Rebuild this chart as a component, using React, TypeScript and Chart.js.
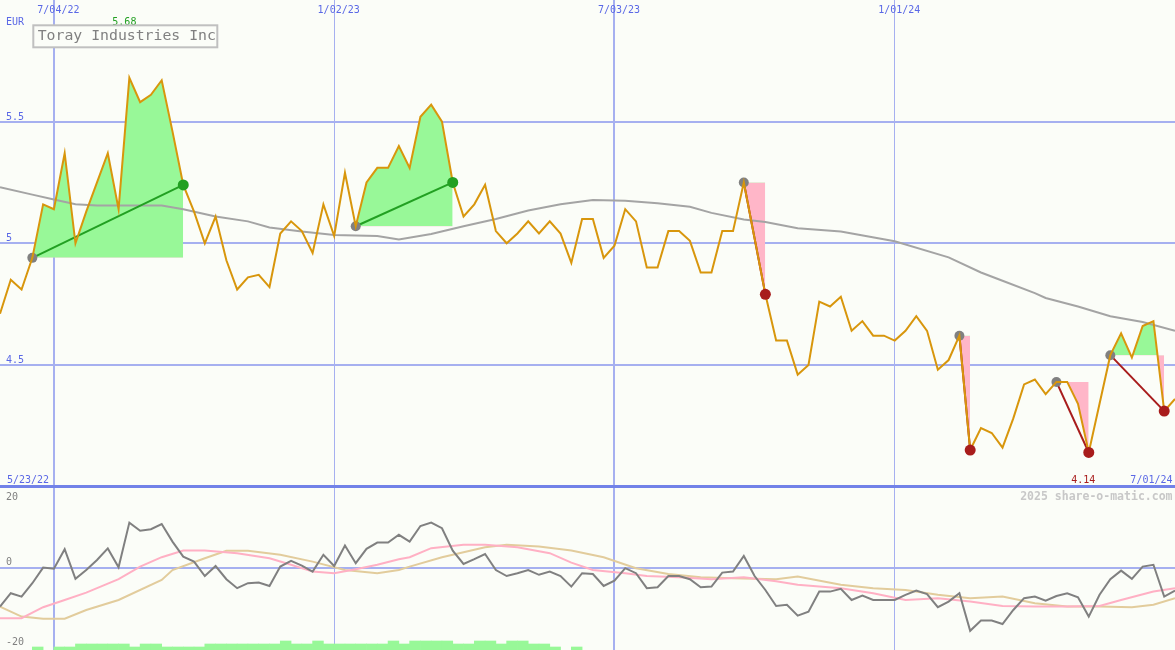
import React, { useEffect, useRef } from "react";
import { Chart, registerables } from "chart.js";

Chart.register(...registerables);

// ---------- texts ----------
const TITLE = "Toray Industries Inc";
const CURRENCY = "EUR";
const FIRST_LABEL = "5/23/22";
const LAST_LABEL = "7/01/24";
const WATERMARK = "2025 share-o-matic.com";

// ---------- axes ----------
const dateTicks = [5, 31, 57, 83]; // week index of each date tick (weekly data starting 2022-05-30)
const dateTickLabels = ["7/04/22", "1/02/23", "7/03/23", "1/01/24"];
const priceTicks = [4.0, 4.5, 5.0, 5.5];
const priceTickLabels = ["", "4.5", "5", "5.5"];
const oscTicks = [-20, 0, 20];
const oscTickLabels = ["-20", "0", "20"];

// ---------- data (weekly) ----------
const closes = [
  4.71, 4.85, 4.81, 4.94, 5.16, 5.14, 5.37, 5.0, 5.13, 5.25,
  5.37, 5.14, 5.68, 5.58, 5.61, 5.67, 5.46, 5.24, 5.13, 5.0,
  5.11, 4.93, 4.81, 4.86, 4.87, 4.82, 5.04, 5.09, 5.05, 4.96,
  5.16, 5.03, 5.29, 5.07, 5.25, 5.31, 5.31, 5.4, 5.31, 5.52,
  5.57, 5.5, 5.25, 5.11, 5.16, 5.24, 5.05, 5.0, 5.04, 5.09,
  5.04, 5.09, 5.04, 4.92, 5.1, 5.1, 4.94, 4.99, 5.14, 5.09,
  4.9, 4.9, 5.05, 5.05, 5.01, 4.88, 4.88, 5.05, 5.05, 5.25,
  5.02, 4.79, 4.6, 4.6, 4.46, 4.5, 4.76, 4.74, 4.78, 4.64,
  4.68, 4.62, 4.62, 4.6, 4.64, 4.7, 4.64, 4.48, 4.52, 4.62,
  4.15, 4.24, 4.22, 4.16, 4.28, 4.42, 4.44, 4.38, 4.43, 4.43,
  4.34, 4.14, 4.34, 4.54, 4.63, 4.53, 4.66, 4.68, 4.31, 4.36,
];

const maWeeks = [0, 3, 5, 7, 9, 12, 15, 17, 20, 23, 25, 28, 31, 35, 37, 40, 43, 46, 49, 52, 55, 58, 61, 64, 66, 69, 71, 74, 78, 83, 88, 91, 93, 96, 97, 100, 103, 106, 109];
const maValues = [5.23, 5.2, 5.18, 5.16, 5.155, 5.155, 5.155, 5.14, 5.11, 5.09, 5.065, 5.048, 5.034, 5.03, 5.016, 5.038, 5.07, 5.1, 5.135, 5.16, 5.178, 5.175, 5.164, 5.15, 5.125, 5.098, 5.087, 5.062, 5.048, 5.008, 4.942, 4.88, 4.846, 4.795, 4.775, 4.74, 4.7, 4.676, 4.64];

const momentum = [
  -9.75, -6.4, -7.25, -3.9, 0, -0.3, 4.6, -2.8, -0.6, 1.9,
  4.8, 0.1, 11.25, 9.2, 9.6, 10.9, 6.5, 2.75, 1.5, -2.1,
  0.4, -2.9, -5.15, -3.9, -3.75, -4.6, 0.25, 1.7, 0.5, -1.0,
  3.2, 0.4, 5.5, 1.1, 4.7, 6.25, 6.25, 8.2, 6.5, 10.4,
  11.25, 9.85, 4.25, 0.9, 2.1, 3.4, -0.6, -2.1, -1.4, -0.6,
  -1.8, -1.0, -2.1, -4.75, -1.4, -1.6, -4.6, -3.25, -0.15, -1.4,
  -5.15, -4.9, -2.1, -2.1, -2.9, -4.9, -4.75, -1.25, -1.0, 2.9,
  -2.1, -5.6, -9.6, -9.3, -12, -11, -6, -6, -5.3, -8.1,
  -7, -8.1, -8.1, -8.1, -6.8, -5.75, -6.6, -9.9, -8.5, -6.4,
  -15.8, -13.25, -13.25, -14.1, -10.6, -7.65, -7.25, -8.25, -7.1, -6.4,
  -7.4, -12.25, -6.8, -2.9, -0.75, -2.8, 0.25, 0.7, -7.25, -5.75,
];

const signalWeeks = [0, 2, 4, 6, 8, 11, 13, 15, 17, 19, 22, 25, 27, 29, 31, 33, 35, 37, 38, 40, 43, 45, 48, 51, 53, 55, 58, 60, 63, 66, 69, 72, 74, 78, 81, 84, 87, 90, 93, 96, 99, 102, 104, 107, 109];
const signalValues = [-12.65, -12.65, -9.9, -8.1, -6.25, -2.9, 0.25, 2.6, 4.25, 4.25, 3.6, 2.35, 0.7, -1, -1.4, -0.4, 0.7, 2.1, 2.6, 4.85, 5.7, 5.7, 5.1, 3.6, 1.25, -0.6, -1.4, -2.1, -2.4, -2.9, -2.4, -3.4, -4.3, -5.15, -6.4, -8.1, -7.65, -8.5, -9.6, -9.75, -9.75, -9.6, -8.1, -6, -5.15];

const slowWeeks = [0, 2, 4, 6, 8, 11, 15, 16, 19, 21, 23, 26, 29, 32, 35, 37, 38, 41, 45, 47, 50, 53, 56, 59, 62, 65, 68, 72, 74, 78, 81, 84, 87, 90, 93, 96, 99, 102, 105, 107, 109];
const slowValues = [-9.75, -12.25, -12.8, -12.8, -10.6, -8.1, -3.1, -0.6, 2.35, 4.2, 4.2, 3.2, 1.5, -0.6, -1.4, -0.6, 0.25, 2.6, 5.1, 5.7, 5.25, 4.25, 2.6, -0.15, -1.6, -2.4, -2.65, -2.9, -2.25, -4.3, -5.15, -5.6, -6.8, -7.65, -7.25, -8.9, -9.75, -9.75, -9.9, -9.3, -7.65];

const barLevels = [
  0, 0, 0, 1, 0, 1, 1, 2, 2, 2,
  2, 2, 1, 2, 2, 1, 1, 1, 1, 2,
  2, 2, 2, 2, 2, 2, 3, 2, 2, 3,
  2, 2, 2, 2, 2, 2, 3, 2, 3, 3,
  3, 3, 2, 2, 3, 3, 2, 3, 3, 2,
  2, 1, 0, 1,
];

const patternStart = [3, 33, 69, 89, 98, 103];
const patternEnd = [17, 42, 71, 90, 101, 108];

// ---------- styling ----------
const BG = "#fbfdf8";
const GRID = "#a6b0f0";
const DIVIDER = "#7282e8";
const BLUE_TEXT = "#5a68e6";
const GRAY_TEXT = "#808080";
const ORANGE = "#d8960c";
const MA_GRAY = "#a4a4a4";
const GREEN_FILL = "#98f898";
const PINK_FILL = "#ffb6c8";
const DK_GREEN = "#22a022";
const DK_RED = "#a81c1c";
const DOT_GRAY = "#808080";
const MOM_GRAY = "#808080";
const SIG_PINK = "#ffb0c4";
const SLOW_TAN = "#e2cc9c";
const FONT = '"DejaVu Sans Mono", monospace';

// axis ranges that place price panel on top, oscillator panel below
const PRICE_MIN = 3.328;
const PRICE_MAX = 6.0;
const OSC_MIN = -20.6;
const OSC_MAX = 141.9;
const BAR_MAX = 216.7;

const pts = (xs: number[], ys: number[]) => xs.map((x, i) => ({ x, y: ys[i] }));

const labelPlugin = {
  id: "textLabels",
  afterDraw(chart: any) {
    const ctx = chart.ctx as CanvasRenderingContext2D;
    const sx = chart.scales.x;
    const sy = chart.scales.y;
    const so = chart.scales.yo;
    ctx.save();
    ctx.textBaseline = "alphabetic";
    ctx.font = `10px ${FONT}`;
    ctx.fillStyle = BLUE_TEXT;

    // date labels on top
    ctx.textAlign = "center";
    sx.ticks.forEach((t: any, k: number) => {
      ctx.fillText(dateTickLabels[k], sx.getPixelForValue(t.value) + 4.5, 12.5);
    });

    // price labels
    ctx.textAlign = "left";
    sy.ticks.forEach((t: any, k: number) => {
      const lab = priceTickLabels[k];
      if (lab) ctx.fillText(lab, 6, sy.getPixelForValue(t.value) - 2);
    });
    ctx.fillText(CURRENCY, 6, 25);

    const divY = sy.getPixelForValue(priceTicks[0]);
    ctx.fillText(FIRST_LABEL, 7, divY - 4);
    ctx.textAlign = "right";
    ctx.fillText(LAST_LABEL, 1172.5, divY - 4);

    // max / min labels
    let iMax = 0, iMin = 0;
    closes.forEach((v, i) => {
      if (v > closes[iMax]) iMax = i;
      if (v <= closes[iMin]) iMin = i;
    });
    ctx.textAlign = "center";
    ctx.fillStyle = DK_GREEN;
    ctx.fillText(closes[iMax].toFixed(2), sx.getPixelForValue(iMax) - 5, 25);
    ctx.fillStyle = DK_RED;
    ctx.fillText(closes[iMin].toFixed(2), sx.getPixelForValue(iMin) - 5.5, divY - 4);

    // oscillator labels
    ctx.textAlign = "left";
    ctx.fillStyle = GRAY_TEXT;
    so.ticks.forEach((t: any, k: number) => {
      const y = Math.max(so.getPixelForValue(t.value) - 2.5, divY + 13);
      ctx.fillText(oscTickLabels[k], 6, y);
    });

    // watermark
    ctx.font = `bold 11.5px ${FONT}`;
    ctx.fillStyle = "#c8c8c8";
    ctx.textAlign = "right";
    ctx.fillText(WATERMARK, 1172.5, divY + 13.5);

    // title box
    ctx.fillStyle = BG;
    ctx.fillRect(33.3, 25.3, 184, 22);
    ctx.strokeStyle = "#c0c0c0";
    ctx.lineWidth = 2;
    ctx.strokeRect(33.3, 25.3, 184, 22);
    ctx.font = `14.8px ${FONT}`;
    ctx.fillStyle = GRAY_TEXT;
    ctx.textAlign = "left";
    ctx.fillText(TITLE, 37.7, 40);
    ctx.restore();
  },
};

export default function App() {
  const ref = useRef<HTMLCanvasElement>(null);

  useEffect(() => {
    document.body.style.margin = "0";
    const canvas = ref.current;
    if (!canvas) return;

    const fills: any[] = [];
    const trends: any[] = [];
    const endColors: string[] = [];
    patternStart.forEach((s, k) => {
      const e = patternEnd[k];
      const up = closes[e] >= closes[s];
      fills.push({
        type: "line",
        data: closes.slice(s, e + 1).map((v, j) => ({ x: s + j, y: v })),
        yAxisID: "y",
        borderWidth: 0,
        borderColor: "rgba(0,0,0,0)",
        backgroundColor: GREEN_FILL,
        pointRadius: 0,
        fill: { target: { value: closes[s] }, above: GREEN_FILL, below: PINK_FILL },
        order: 20,
      });
      trends.push({
        type: "line",
        data: [
          { x: s, y: closes[s] },
          { x: e, y: closes[e] },
        ],
        yAxisID: "y",
        borderColor: up ? DK_GREEN : DK_RED,
        borderWidth: 2,
        pointRadius: 0,
        fill: false,
        order: 6,
      });
      endColors.push(up ? DK_GREEN : DK_RED);
    });

    const chart = new Chart(canvas, {
      type: "line",
      data: {
        datasets: [
          ...fills,
          {
            type: "bar",
            data: barLevels.map((v, i) => ({ x: i + 0.5, y: v })).filter((p) => p.y > 0),
            yAxisID: "yv",
            backgroundColor: GREEN_FILL,
            borderWidth: 0,
            barPercentage: 1,
            categoryPercentage: 1,
            order: 19,
          },
          {
            type: "line",
            data: pts(slowWeeks, slowValues),
            yAxisID: "yo",
            borderColor: SLOW_TAN,
            borderWidth: 2,
            pointRadius: 0,
            fill: false,
            order: 12,
          },
          {
            type: "line",
            data: pts(signalWeeks, signalValues),
            yAxisID: "yo",
            borderColor: SIG_PINK,
            borderWidth: 2,
            pointRadius: 0,
            fill: false,
            order: 11,
          },
          {
            type: "line",
            data: momentum.map((v, i) => ({ x: i, y: v })),
            yAxisID: "yo",
            borderColor: MOM_GRAY,
            borderWidth: 2,
            pointRadius: 0,
            fill: false,
            order: 10,
          },
          {
            type: "line",
            data: pts(maWeeks, maValues),
            yAxisID: "y",
            borderColor: MA_GRAY,
            borderWidth: 2,
            pointRadius: 0,
            fill: false,
            order: 8,
          },
          ...trends,
          {
            type: "line",
            data: patternStart.map((s) => ({ x: s, y: closes[s] })),
            yAxisID: "y",
            showLine: false,
            pointRadius: 5,
            pointBorderWidth: 0,
            pointBackgroundColor: DOT_GRAY,
            fill: false,
            order: 4,
          },
          {
            type: "line",
            data: closes.map((v, i) => ({ x: i, y: v })),
            yAxisID: "y",
            borderColor: ORANGE,
            borderWidth: 2,
            pointRadius: 0,
            fill: false,
            order: 2,
          },
          {
            type: "line",
            data: patternEnd.map((e) => ({ x: e, y: closes[e] })),
            yAxisID: "y",
            showLine: false,
            pointRadius: 5.5,
            pointBorderWidth: 0,
            pointBackgroundColor: endColors,
            fill: false,
            order: 1,
          },
        ],
      },
      options: {
        animation: false,
        responsive: false,
        maintainAspectRatio: false,
        devicePixelRatio: 1,
        events: [],
        layout: { padding: 0, autoPadding: false },
        plugins: {
          legend: { display: false },
          tooltip: { enabled: false },
          colors: { enabled: false },
        } as any,
        scales: {
          x: {
            type: "linear",
            min: 0,
            max: closes.length - 1,
            offset: false,
            bounds: "data",
            ticks: { display: false },
            border: { display: false },
            grid: {
              drawTicks: false,
              offset: false,
              color: GRID,
              lineWidth: (c: any) => (c.index % 2 === 0 ? 2 : 1),
            },
            afterBuildTicks: (s: any) => {
              s.ticks = dateTicks.map((v) => ({ value: v }));
            },
          },
          y: {
            type: "linear",
            position: "left",
            min: PRICE_MIN,
            max: PRICE_MAX,
            bounds: "data",
            ticks: { display: false },
            border: { display: false },
            grid: {
              drawTicks: false,
              color: (c: any) => (c.tick && c.tick.value === priceTicks[0] ? DIVIDER : GRID),
              lineWidth: (c: any) => (c.tick && c.tick.value === priceTicks[0] ? 3 : 2),
            },
            afterBuildTicks: (s: any) => {
              s.ticks = priceTicks.map((v) => ({ value: v }));
            },
          },
          yo: {
            type: "linear",
            position: "left",
            min: OSC_MIN,
            max: OSC_MAX,
            bounds: "data",
            ticks: { display: false },
            border: { display: false },
            grid: {
              drawTicks: false,
              color: (c: any) => (c.tick && c.tick.value === 0 ? GRID : "rgba(0,0,0,0)"),
              lineWidth: 2,
            },
            afterBuildTicks: (s: any) => {
              s.ticks = oscTicks.map((v) => ({ value: v }));
            },
          },
          yv: {
            type: "linear",
            position: "left",
            min: 0,
            max: BAR_MAX,
            display: false,
          },
        } as any,
      },
      plugins: [labelPlugin],
    } as any);

    return () => chart.destroy();
  }, []);

  return (
    <div style={{ width: 1175, height: 650, background: BG }}>
      <style>{"body{margin:0}"}</style>
      <canvas ref={ref} width={1175} height={650} style={{ display: "block" }} />
    </div>
  );
}
